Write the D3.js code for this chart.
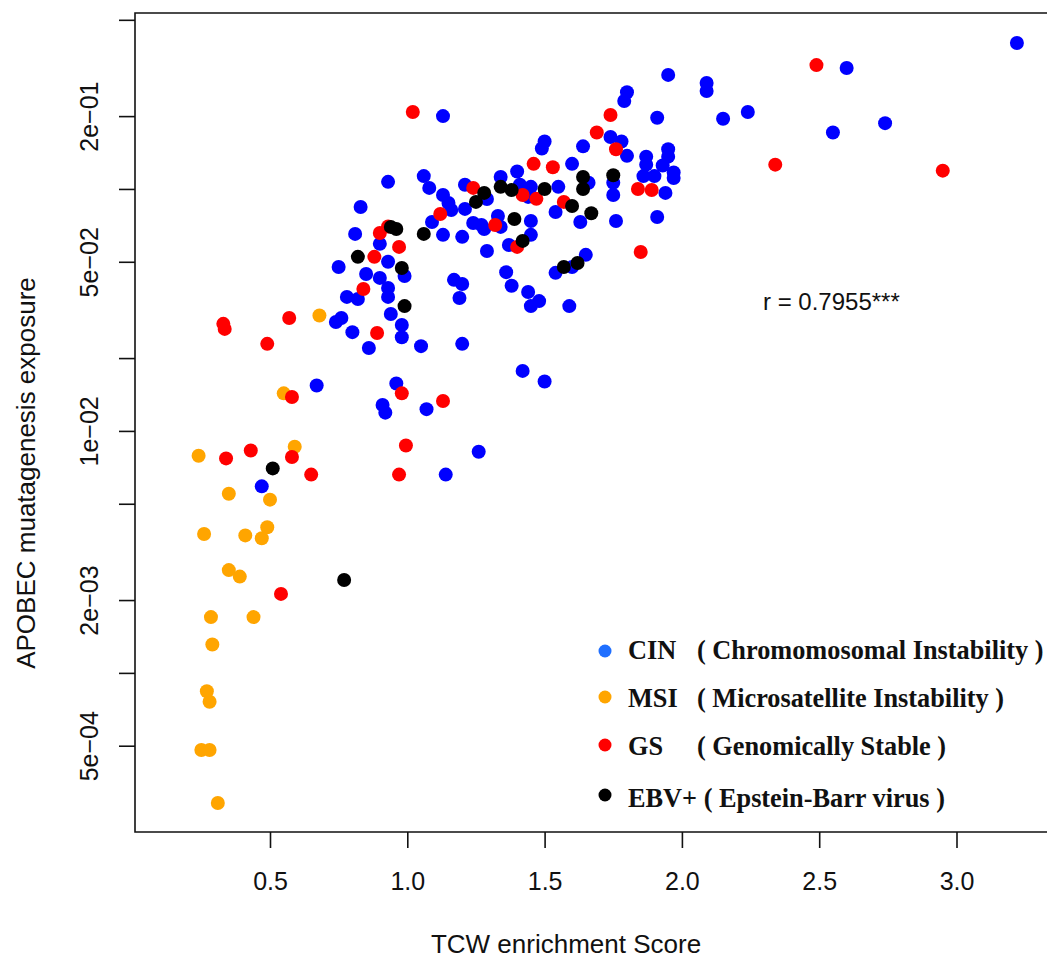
<!DOCTYPE html>
<html>
<head>
<meta charset="utf-8">
<script src="https://cdn.jsdelivr.net/npm/d3@7"></script>
<style>
  body { margin: 0; background: #fff; }
  svg { display: block; }
</style>
</head>
<body>
<div id="chart"></div>
<script>
// CIN (Chromosomal Instability)
const cinX = [3.22, 2.60, 1.95, 2.09, 2.09, 2.24, 2.15, 2.74, 2.55, 1.91, 1.80, 1.79, 1.13, 1.74, 1.78,
  1.80, 1.87, 1.87, 1.95, 1.95, 1.93, 1.97, 1.97, 1.86, 1.90, 1.94, 1.91, 1.75, 1.75, 1.76,
  1.64, 1.60, 1.50, 1.49, 1.55, 1.54, 1.63, 1.66, 0.93, 0.83, 0.81, 0.90, 0.93, 0.75, 0.85,
  0.90, 0.93, 0.93, 0.78, 0.82, 0.99, 0.94, 0.74, 0.76, 0.98, 0.98, 0.80, 0.86, 1.05, 1.20,
  0.67, 0.96, 0.91, 0.92, 1.07, 0.47, 1.26, 1.14, 1.42, 1.50, 1.45, 1.48, 1.59, 1.06, 1.08,
  1.13, 1.15, 1.16, 1.09, 1.13, 1.20, 1.21, 1.21, 1.24, 1.27, 1.28, 1.29, 1.29, 1.33, 1.34,
  1.34, 1.40, 1.41, 1.45, 1.44, 1.45, 1.45, 1.37, 1.36, 1.38, 1.44, 1.17, 1.20, 1.19, 1.54,
  1.60, 1.65]
const cinY = [0.401, 0.316, 0.296, 0.274, 0.254, 0.208, 0.195, 0.187, 0.171, 0.197, 0.251, 0.231, 0.200, 0.164, 0.157,
  0.137, 0.136, 0.126, 0.146, 0.136, 0.125, 0.117, 0.111, 0.113, 0.113, 0.0963, 0.0766, 0.106, 0.0944, 0.0737,
  0.150, 0.127, 0.157, 0.147, 0.102, 0.0803, 0.0730, 0.106, 0.107, 0.0842, 0.0652, 0.0593, 0.0500, 0.0476, 0.0445,
  0.0429, 0.0390, 0.0358, 0.0358, 0.0351, 0.0437, 0.0304, 0.0282, 0.0293, 0.0274, 0.0244, 0.0256, 0.0220, 0.0224, 0.0229,
  0.0154, 0.0157, 0.0128, 0.0119, 0.0123, 0.0059, 0.0082, 0.0066, 0.0177, 0.0160, 0.0328, 0.0344, 0.0328, 0.113, 0.101,
  0.0944, 0.0875, 0.0819, 0.0730, 0.0646, 0.0634, 0.0827, 0.104, 0.0723, 0.0710, 0.0683, 0.0909, 0.0554, 0.0773, 0.0697,
  0.112, 0.118, 0.104, 0.102, 0.0927, 0.0737, 0.0646, 0.0587, 0.0453, 0.0398, 0.0375, 0.0421, 0.0405, 0.0354, 0.0450,
  0.0476, 0.0534]

// MSI (Microsatellite Instability)
const msiX = [0.68, 0.55, 0.24, 0.59, 0.35, 0.50, 0.26, 0.41, 0.49, 0.47, 0.35, 0.39, 0.285, 0.44, 0.29,
  0.27, 0.28, 0.25, 0.28, 0.31]
const msiY = [0.030, 0.0143, 0.0079, 0.0086, 0.0055, 0.0052, 0.00375, 0.0037, 0.0040, 0.0036, 0.00266, 0.0025, 0.0017, 0.0017, 0.00131,
  0.00084, 0.00076, 0.00048, 0.00048, 0.00029]

// GS (Genomically Stable)
const gsX = [0.33, 0.335, 0.57, 0.49, 0.58, 0.34, 0.43, 0.58, 0.65, 0.54, 0.84, 0.89, 0.98, 1.13, 0.995,
  0.97, 0.90, 0.93, 0.97, 0.88, 1.12, 1.24, 1.46, 1.53, 1.32, 1.47, 1.40, 1.02, 1.74, 1.69,
  1.76, 1.84, 1.89, 1.85, 1.57, 2.49, 2.34, 2.95, 1.42]
const gsY = [0.0277, 0.0264, 0.0293, 0.0229, 0.0138, 0.0077, 0.0083, 0.0078, 0.0066, 0.00212, 0.0386, 0.0254, 0.0143, 0.0133, 0.0087,
  0.0066, 0.0658, 0.070, 0.0576, 0.0524, 0.0788, 0.101, 0.127, 0.123, 0.071, 0.091, 0.0576, 0.208, 0.202, 0.171,
  0.146, 0.100, 0.099, 0.0549, 0.0884, 0.325, 0.126, 0.119, 0.0944]

// EBV+ (Epstein-Barr virus)
const ebvX = [0.51, 0.77, 0.82, 0.94, 0.96, 1.06, 0.98, 0.99, 1.25, 1.28, 1.34, 1.38, 1.39, 1.42, 1.50,
  1.60, 1.64, 1.64, 1.67, 1.75, 1.57, 1.62]
const ebvY = [0.0070, 0.00242, 0.0524, 0.0697, 0.0683, 0.0652, 0.0471, 0.0328, 0.0884, 0.0963, 0.102, 0.099, 0.0751, 0.0610, 0.100,
  0.085, 0.112, 0.100, 0.0794, 0.114, 0.0476, 0.0494]

const xTicks = [0.5, 1.0, 1.5, 2.0, 2.5, 3.0]
const yTicks = [0.5, 0.2, 0.1, 0.05, 0.02, 0.01, 0.005, 0.002, 0.001, 0.0005]
const yTickLabels = {0.2: "2e\u221201", 0.05: "5e\u221202", 0.01: "1e\u221202", 0.002: "2e\u221203", 0.0005: "5e\u221204"}

const groups = [
  {name: "CIN", desc: "( Chromomosomal Instability )", xs: cinX, ys: cinY, color: "#0000ff", key: "#1f6fff"},
  {name: "MSI", desc: "( Microsatellite Instability )", xs: msiX, ys: msiY, color: "#ffa500", key: "#ffa500"},
  {name: "GS", desc: "( Genomically Stable )", xs: gsX, ys: gsY, color: "#ff0000", key: "#ff0000"},
  {name: "EBV+", desc: "( Epstein-Barr virus )", xs: ebvX, ys: ebvY, color: "#000000", key: "#000000"}
]

const width = 1047
const height = 958
const plotLeft = 135, plotTop = 13, plotBottom = 832

const svg = d3.select("#chart").append("svg")
    .attr("width", width)
    .attr("height", height)

svg.append("rect").attr("width", width).attr("height", height).attr("fill", "#fff")

const x = d3.scaleLinear().domain([0.5, 3.0]).range([270, 956.5])
const y = d3.scaleLog().domain([0.5335, 0.00022]).range([plotTop, plotBottom])

// points: blue first, then orange, red, black on top
const plot = svg.append("g")
groups.forEach(g => {
  const pts = g.xs.map((v, i) => ({x: v, y: g.ys[i]}))
  plot.append("g")
      .attr("fill", g.color)
    .selectAll("circle")
    .data(pts)
    .join("circle")
      .attr("cx", d => x(d.x))
      .attr("cy", d => y(d.y))
      .attr("r", 7)
})

// frame (right edge runs off the picture)
svg.append("path")
    .attr("d", `M${width + 5},${plotTop}H${plotLeft}V${plotBottom}H${width + 5}`)
    .attr("fill", "none")
    .attr("stroke", "#111")
    .attr("stroke-width", 1.6)

// x axis
const xAxis = svg.append("g")
    .attr("transform", `translate(0,${plotBottom})`)
    .call(d3.axisBottom(x).tickValues(xTicks).tickFormat(d3.format(".1f")).tickSize(16))
xAxis.select(".domain").remove()
xAxis.selectAll("line").attr("stroke", "#111").attr("stroke-width", 1.6)
xAxis.selectAll("text")
    .attr("y", 58)
    .attr("dy", 0)
    .attr("fill", "#111")
    .style("font-family", "'Liberation Sans', Arial, sans-serif")
    .style("font-size", "25px")

// y axis (log), labels rotated like R
const yAxis = svg.append("g")
    .attr("transform", `translate(${plotLeft},0)`)
    .call(d3.axisLeft(y).tickValues(yTicks).tickFormat(d => yTickLabels[d] || "").tickSize(16))
yAxis.select(".domain").remove()
yAxis.selectAll("line").attr("stroke", "#111").attr("stroke-width", 1.6)
yAxis.selectAll("text")
    .attr("x", 0)
    .attr("y", 0)
    .attr("dy", 0)
    .attr("transform", "translate(-37,0) rotate(-90)")
    .attr("text-anchor", "middle")
    .attr("fill", "#111")
    .style("font-family", "'Liberation Sans', Arial, sans-serif")
    .style("font-size", "25px")

// axis titles
svg.append("text")
    .attr("transform", "translate(35,473) rotate(-90)")
    .attr("text-anchor", "middle")
    .attr("fill", "#111")
    .style("font-family", "'Liberation Sans', Arial, sans-serif")
    .style("font-size", "26px")
    .text("APOBEC muatagenesis exposure")

svg.append("text")
    .attr("x", 566)
    .attr("y", 953)
    .attr("text-anchor", "middle")
    .attr("fill", "#111")
    .style("font-family", "'Liberation Sans', Arial, sans-serif")
    .style("font-size", "26px")
    .text("TCW enrichment Score")

// correlation
svg.append("text")
    .attr("x", 763)
    .attr("y", 310)
    .attr("fill", "#111")
    .style("font-family", "'Liberation Sans', Arial, sans-serif")
    .style("font-size", "24px")
    .text("r = 0.7955***")

// legend
const legendRows = [651, 697, 745, 795]
const legendBase = [659, 707, 755, 807]
const legend = svg.append("g")
    .style("font-family", "'Liberation Serif', 'Times New Roman', serif")
    .style("font-weight", "bold")
    .style("font-size", "26.3px")
    .attr("fill", "#111")
groups.forEach((g, i) => {
  legend.append("circle")
      .attr("cx", 605)
      .attr("cy", legendRows[i])
      .attr("r", 6.5)
      .attr("fill", g.key)
  if (g.name === "EBV+") {
    legend.append("text").attr("x", 628).attr("y", legendBase[i]).text(g.name + " " + g.desc)
  } else {
    legend.append("text").attr("x", 628).attr("y", legendBase[i]).text(g.name)
    legend.append("text").attr("x", 697).attr("y", legendBase[i]).text(g.desc)
  }
})
</script>
</body>
</html>
